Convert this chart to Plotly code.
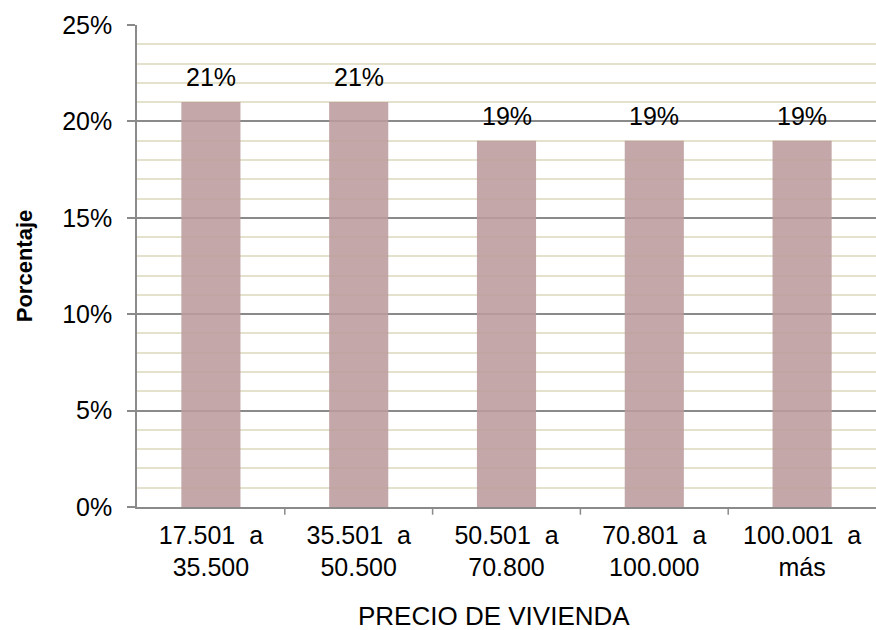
import plotly.graph_objects as go

# Price ranges (two-line labels) and share of respondents per range
categories = ["17.501\u00a0\u00a0a<br>35.500", "35.501\u00a0\u00a0a<br>50.500",
              "50.501\u00a0\u00a0a<br>70.800", "70.801\u00a0\u00a0a<br>100.000",
              "100.001\u00a0\u00a0a<br>más"]
percentages = [0.21, 0.21, 0.19, 0.19, 0.19]
x_title = "PRECIO DE VIVIENDA"
y_title = "Porcentaje"

FONT = "Liberation Sans, Arial, sans-serif"
BAR_COLOR = "rgba(188,156,157,0.88)"
MAJOR_GRID = "#8A8A8A"
MINOR_GRID = "#E4E1CC"

fig = go.Figure(
    go.Bar(
        x=list(range(len(categories))),
        y=percentages,
        marker=dict(color=BAR_COLOR, line=dict(width=0)),
        width=0.4,
        hoverinfo="skip",
    )
)

# Value labels above each bar
for i, v in enumerate(percentages):
    fig.add_annotation(
        x=i, y=v, text=f"{round(v * 100)}%", showarrow=False,
        yanchor="bottom", yshift=9,
        font=dict(family=FONT, size=25, color="#000000"),
    )

# Horizontal axis title, placed slightly left of the plot centre
fig.add_annotation(
    xref="paper", yref="paper", x=0.483, y=-0.226,
    xanchor="center", yanchor="middle", showarrow=False,
    text=x_title, font=dict(family=FONT, size=26, color="#000000"),
    borderpad=0,
)

fig.update_layout(
    width=876, height=630,
    margin=dict(l=137, r=0, t=25, b=123),
    paper_bgcolor="white", plot_bgcolor="white",
    showlegend=False,
    font=dict(family=FONT, size=25, color="#000000"),
    xaxis=dict(
        tickmode="array",
        tickvals=list(range(len(categories))),
        ticktext=categories,
        range=[-0.5, len(categories) - 0.5],
        showgrid=False,
        showline=True, linecolor=MAJOR_GRID, linewidth=1.5,
        ticks="outside", ticklen=0,
        ticklabelstandoff=5,
        tickfont=dict(family=FONT, size=25),
        zeroline=False,
    ),
    yaxis=dict(
        range=[0, 0.25],
        tickmode="linear", tick0=0, dtick=0.05,
        tickformat=".0%",
        showgrid=True, gridcolor=MAJOR_GRID, gridwidth=1.5,
        showline=True, linecolor=MAJOR_GRID, linewidth=1.5,
        ticks="outside", ticklen=8, tickcolor=MAJOR_GRID, tickwidth=1.5,
        ticklabelstandoff=10,
        tickfont=dict(family=FONT, size=25),
        minor=dict(dtick=0.01, tick0=0, showgrid=True, gridcolor=MINOR_GRID, gridwidth=1.5, ticks=""),
        title=dict(text=f"<b>{y_title}</b>", font=dict(family=FONT, size=22), standoff=24),
        zeroline=False,
    ),
)

# Category boundary ticks along the x axis
for b in [0.5, 1.5, 2.5, 3.5]:
    fig.add_shape(
        type="line", xref="x", yref="paper",
        x0=b, x1=b, y0=0, y1=-0.016,
        line=dict(color=MAJOR_GRID, width=1.5),
    )

fig.write_html("out.html")
